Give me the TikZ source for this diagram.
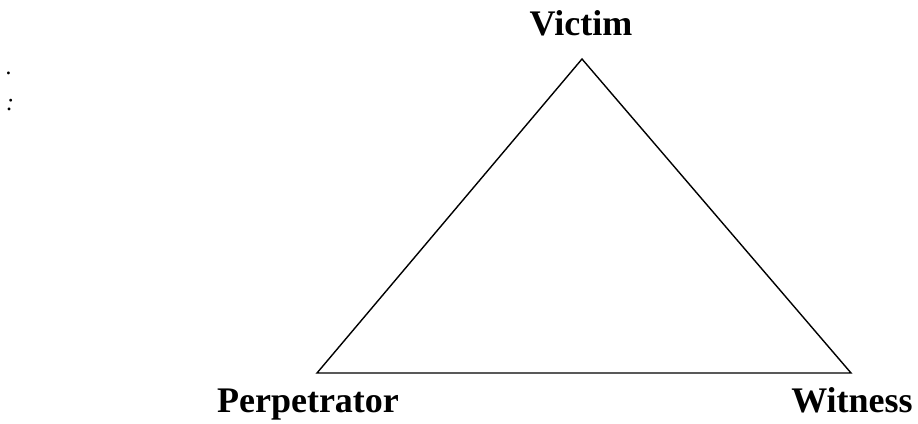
\documentclass[tikz,border=0pt]{standalone}
\usepackage{fontspec}
\setmainfont{Liberation Serif}
\begin{document}
\begin{tikzpicture}[x=1pt,y=-1pt,
  lbl/.style={font=\fontsize{36}{40}\selectfont\bfseries, inner sep=0pt, anchor=base},
  dotmark/.style={font=\fontsize{24}{26}\selectfont\itshape, inner sep=0pt, anchor=base},
  edge/.style={line width=1.4pt, line join=miter}]
\useasboundingbox (0,0) rectangle (918,423);
\coordinate (A) at (582,59);
\coordinate (B) at (317,373);
\coordinate (C) at (851,373);
\draw[edge] (A) -- (B) -- (C) -- cycle;
\node[lbl] (victim) at (581,35) {Victim};
\node[lbl] (perp) at (308,412) {Perpetrator};
\node[lbl] (wit) at (852,412) {Witness};
\node[dotmark] (m1) at (9,74) {.};
\node[dotmark] (m2) at (10,110) {:};
\end{tikzpicture}
\end{document}
